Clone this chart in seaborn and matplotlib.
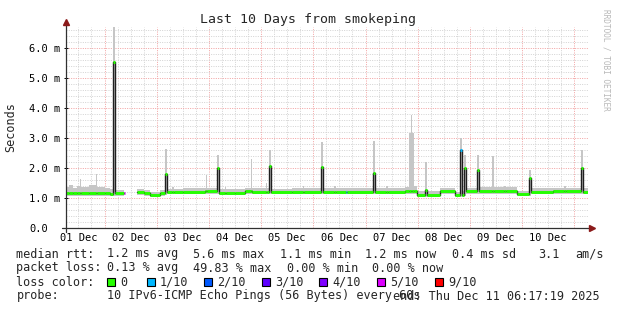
import numpy as np
import pandas as pd
import matplotlib
matplotlib.use("Agg")
import matplotlib.pyplot as plt
from matplotlib.patches import Rectangle
import seaborn as sns

# ---------------- data (days since 01 Dec 00:00, values in ms) ----------------
t_day = [0.262, 0.320, 0.400, 0.480, 0.525, 0.545, 0.700, 0.830, 0.850, 1.000,
         1.100, 1.166, 1.196, 1.370, 1.392, 1.622, 1.750, 1.871, 2.063, 2.163,
         2.193, 2.300, 2.340, 2.500, 2.925, 2.940, 2.960, 3.159, 3.189, 3.300,
         3.330, 3.500, 3.690, 3.800, 3.820, 4.090, 4.110, 4.155, 4.185, 4.600,
         4.800, 4.830, 5.151, 5.181, 5.400, 5.430, 5.620, 5.640, 6.147, 6.177,
         6.400, 6.430, 6.756, 6.840, 6.870, 6.885, 6.920, 6.986, 7.144, 7.174,
         7.427, 7.714, 7.815, 7.845, 7.891, 7.921, 8.140, 8.170, 8.432, 8.452,
         8.650, 8.690, 8.902, 9.135, 9.165, 9.600, 9.800, 9.840, 10.132, 10.162,
         10.262]
median_ms = [1.16, 1.16, 1.17, 1.16, 1.16, 1.16, 1.16, 1.17, 1.17, 1.16,
             1.15, 5.55, 1.16, 1.16, np.nan, 1.19, 1.17, 1.10, 1.16, 1.79,
             1.20, 1.21, 1.20, 1.21, 1.23, 1.23, 1.23, 2.01, 1.18, 1.17,
             1.17, 1.17, 1.22, 1.22, 1.21, 1.21, 1.21, 2.08, 1.20, 1.21,
             1.21, 1.21, 2.04, 1.20, 1.20, 1.20, 1.21, 1.20, 1.82, 1.21,
             1.21, 1.21, 1.23, 1.23, 1.23, 1.23, 1.23, 1.10, 1.27, 1.10,
             1.23, 1.10, 2.60, 1.10, 1.99, 1.22, 1.93, 1.24, 1.24, 1.24,
             1.24, 1.24, 1.12, 1.66, 1.21, 1.22, 1.22, 1.22, 1.99, 1.20,
             1.20]
smoke_lo = [1.06, 1.07, 1.06, 1.07, 1.07, 1.06, 1.07, 1.07, 1.07, 1.07,
            1.06, 1.06, 1.07, 1.07, np.nan, 1.10, 1.08, 1.03, 1.08, 1.10,
            1.12, 1.12, 1.12, 1.13, 1.15, 1.15, 1.15, 1.12, 1.10, 1.09,
            1.09, 1.09, 1.13, 1.13, 1.13, 1.13, 1.13, 1.12, 1.12, 1.12,
            1.12, 1.12, 1.12, 1.12, 1.12, 1.12, 1.12, 1.12, 1.12, 1.13,
            1.13, 1.13, 1.14, 1.14, 1.14, 1.14, 1.14, 1.05, 1.05, 1.05,
            1.15, 1.05, 1.05, 1.05, 1.08, 1.14, 1.14, 1.15, 1.15, 1.15,
            1.15, 1.15, 1.06, 1.06, 1.13, 1.14, 1.14, 1.14, 1.14, 1.13,
            1.13]
smoke_hi = [1.38, 1.45, 1.35, 1.40, 1.65, 1.36, 1.42, 1.80, 1.38, 1.35,
            1.30, 6.70, 1.28, 1.27, np.nan, 1.30, 1.28, 1.20, 1.26, 2.63,
            1.30, 1.38, 1.30, 1.32, 1.35, 1.77, 1.35, 2.43, 1.30, 1.37,
            1.30, 1.30, 1.33, 2.30, 1.32, 1.50, 1.32, 2.60, 1.31, 1.33,
            1.40, 1.33, 2.88, 1.33, 1.41, 1.33, 1.34, 1.33, 2.91, 1.32,
            1.39, 1.32, 1.36, 3.18, 3.77, 3.18, 1.40, 1.22, 2.21, 1.22,
            1.33, 1.20, 2.99, 1.22, 2.43, 1.32, 2.43, 1.36, 2.40, 1.36,
            1.40, 1.36, 1.22, 1.93, 1.33, 1.35, 1.39, 1.35, 2.60, 1.33,
            1.33]
loss_tenths = [0, 0, 0, 0, 0, 0, 0, 0, 0, 0,
               0, 0, 0, 5, 0, 0, 0, 0, 0, 0,
               0, 0, 0, 0, 0, 0, 0, 0, 0, 0,
               0, 0, 0, 0, 0, 0, 0, 0, 0, 0,
               0, 0, 0, 0, 0, 0, 1, 0, 0, 0,
               0, 0, 0, 0, 0, 0, 0, 0, 0, 0,
               0, 0, 1, 0, 0, 0, 0, 0, 0, 0,
               0, 0, 0, 0, 0, 0, 0, 0, 0, 0,
               0]

day_labels = ["01 Dec", "02 Dec", "03 Dec", "04 Dec", "05 Dec",
              "06 Dec", "07 Dec", "08 Dec", "09 Dec", "10 Dec"]
y_values = [0, 1, 2, 3, 4, 5, 6]
y_labels = ["0.0", "1.0 m", "2.0 m", "3.0 m", "4.0 m", "5.0 m", "6.0 m"]

loss_levels = [0, 1, 2, 3, 4, 5, 9]
loss_names = ["0", "1/10", "2/10", "3/10", "4/10", "5/10", "9/10"]
loss_hex = ["#26ff00", "#00b8ff", "#0059ff", "#5e00ff", "#7e00ff", "#dd00ff", "#ff0000"]

rtt_stats = ["median rtt:", "1.2 ms avg", "5.6 ms max", "1.1 ms min",
             "1.2 ms now", "0.4 ms sd", "3.1", "am/s"]
loss_stats = ["packet loss:", "0.13 % avg", "49.83 % max", "0.00 % min", "0.00 % now"]
probe_text = ["probe:", "10 IPv6-ICMP Echo Pings (56 Bytes) every 60s",
              "end: Thu Dec 11 06:17:19 2025"]

# ---------------- figure ----------------
sns.set_style("white")
plt.rcParams['font.family'] = ['DejaVu Sans Mono', 'DejaVu Sans']

W, H = 617, 310
fig = plt.figure(figsize=(W / 100, H / 100), dpi=100)
fig.patch.set_facecolor("white")
ax = fig.add_axes([66 / W, 1 - 228 / H, 522 / W, 201 / H])
ax.set_facecolor("white")
x0, x1 = 0.262, 10.262
ax.set_xlim(x0, x1)
ax.set_ylim(0, 6.7)
for s in ax.spines.values():
    s.set_visible(False)

red_grid = "#f2a0a0"
grey_grid = "#d2d2d2"
dot = (0, (1, 1.4))
# grid (vertical: midnight major, 6h minor)
for q in np.arange(1, 41):
    v = q * 0.25
    if v <= x0 or v >= x1:
        continue
    if abs(v - round(v)) < 1e-9:
        ax.axvline(v, color=red_grid, lw=0.7, ls=dot, zorder=0)
    else:
        ax.axvline(v, color=grey_grid, lw=0.7, ls=dot, zorder=0)
for q in range(1, 34):
    v = q * 0.2
    if q % 5 == 0:
        ax.axhline(v, color=red_grid, lw=0.7, ls=dot, zorder=0)
    else:
        ax.axhline(v, color=grey_grid, lw=0.7, ls=dot, zorder=0)

df = pd.DataFrame({"t": t_day, "med": median_ms, "lo": smoke_lo,
                   "hi": smoke_hi, "loss": loss_tenths})
df["block"] = df["med"].isna().cumsum()

# smoke
ax.fill_between(df["t"], df["lo"], df["hi"], step="post", color="#c6c6c6",
                lw=0, zorder=2)

# median (dark line)
valid = df.dropna()
sns.lineplot(data=valid, x="t", y="med", units="block", estimator=None,
             drawstyle="steps-post", color="#202020", lw=1.0, ax=ax,
             legend=False, zorder=3)

# loss-coloured median band
cmap = dict(zip(loss_levels, loss_hex))
seg = df.iloc[:-1]
ax.hlines(seg["med"], seg["t"].values, df["t"].values[1:],
          colors=[cmap[l] for l in seg["loss"]], lw=2.1, zorder=4)

ax.set_xlabel("")
ax.set_ylabel("")

# ticks
ax.set_xticks([d + 0.5 for d in range(10)])
ax.set_xticklabels(day_labels)
ax.tick_params(axis="x", length=0, pad=3.5, labelsize=7.5, colors="black")
ax.set_yticks(y_values)
ax.set_yticklabels(y_labels, ha="left")
ax.tick_params(axis="y", length=3, width=0.7, direction="inout", pad=24.8,
               labelsize=7.5, colors="black", left=True)

# axes lines with arrows
axis_col = "#303030"
ax.plot([0, 0], [-0.02, 1.02], transform=ax.transAxes, color=axis_col, lw=0.9,
        clip_on=False, zorder=5)
ax.plot([-0.008, 1.005], [0, 0], transform=ax.transAxes, color=axis_col, lw=0.9,
        clip_on=False, zorder=5)
ax.plot([0], [1.025], marker="^", ms=4.5, color="#8b1a1a", transform=ax.transAxes,
        clip_on=False, zorder=6)
ax.plot([1.007], [0], marker=">", ms=4.5, color="#8b1a1a", transform=ax.transAxes,
        clip_on=False, zorder=6)

# titles
fig.text(308.5 / W, 1 - 19 / H, "Last 10 Days from smokeping", ha="center",
         va="center", fontsize=9.5)
fig.text(11 / W, 1 - 127 / H, "Seconds", rotation=90, ha="center", va="center",
         fontsize=8.5)
fig.text(606 / W, 1 - 60 / H, "RRDTOOL / TOBI OETIKER", rotation=270, ha="center",
         va="center", fontsize=5.6, color="#b8b8b8")

# legend
fs = 8.5
for x, s in zip([16.5, 107, 193, 279.5, 365, 452, 538.6, 575.6], rtt_stats):
    fig.text(x / W, 1 - 254 / H, s, va="center", ha="left", fontsize=fs)
for x, s in zip([16.5, 107, 193, 286.6, 372], loss_stats):
    fig.text(x / W, 1 - 268 / H, s, va="center", ha="left", fontsize=fs)
fig.text(16.5 / W, 1 - 282 / H, "loss color:", va="center", ha="left", fontsize=fs)
for x, name, c in zip([107, 147, 204, 262, 319, 377, 435], loss_names, loss_hex):
    fig.add_artist(Rectangle((x / W, 1 - 286 / H), 8 / W, 8 / H, facecolor=c,
                             edgecolor="black", lw=0.8, transform=fig.transFigure))
    fig.text((x + 13) / W, 1 - 282 / H, name, va="center", ha="left", fontsize=fs)
fig.text(16.5 / W, 1 - 296 / H, probe_text[0], va="center", ha="left", fontsize=fs)
fig.text(107 / W, 1 - 296 / H, probe_text[1], va="center", ha="left", fontsize=fs)
fig.text(600 / W, 1 - 296 / H, probe_text[2], va="center", ha="right", fontsize=fs)

fig.savefig("out.png", dpi=100, facecolor="white")
